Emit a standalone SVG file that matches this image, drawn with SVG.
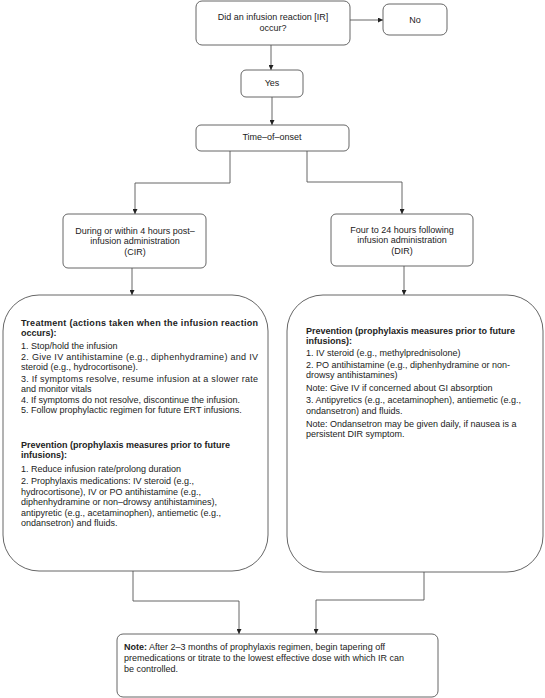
<svg xmlns="http://www.w3.org/2000/svg" width="545" height="698" viewBox="0 0 545 698">
<style>
.box{fill:#fff;stroke:#555;stroke-width:0.9}
.t{font-family:"Liberation Sans",Arial,sans-serif;font-size:9px;fill:#222}
.c{text-anchor:middle}
.b{font-weight:bold}
.conn path{fill:none;stroke:#555;stroke-width:0.9}
</style>
<defs>
<marker id="ah" viewBox="0 0 6 6" refX="6" refY="3" markerWidth="5" markerHeight="5" orient="auto" markerUnits="userSpaceOnUse">
<path d="M0,0 L6,3 L0,6 z" fill="#222"/>
</marker>
</defs>
<rect width="545" height="698" fill="#fff"/>
<g class="conn">
<path d="M350,20 H383" marker-end="url(#ah)"/>
<path d="M271,45 V70" marker-end="url(#ah)"/>
<path d="M272,97 V125" marker-end="url(#ah)"/>
<path d="M230,151 V183 H135 V214" marker-end="url(#ah)"/>
<path d="M307,151 V182 H402 V214" marker-end="url(#ah)"/>
<path d="M132,268 V295" marker-end="url(#ah)"/>
<path d="M404,266 V295" marker-end="url(#ah)"/>
<path d="M133,571 V601 H239 V634" marker-end="url(#ah)"/>
<path d="M424,572 V600 H316 V634" marker-end="url(#ah)"/>
</g>
<g id="q">
<rect class="box" x="196" y="1" width="154" height="44" rx="6"/>
<text class="t c" x="273" y="20">Did an infusion reaction [IR]</text>
<text class="t c" x="273" y="31">occur?</text>
</g>
<g id="no">
<rect class="box" x="383" y="4" width="64" height="31" rx="6"/>
<text class="t c" x="415" y="23">No</text>
</g>
<g id="yes">
<rect class="box" x="241" y="70" width="62" height="27" rx="5"/>
<text class="t c" x="272" y="86">Yes</text>
</g>
<g id="onset">
<rect class="box" x="196" y="125" width="153" height="26" rx="5"/>
<text class="t c" x="272" y="140">Time–of–onset</text>
</g>
<g id="cir">
<rect class="box" x="63" y="214" width="143" height="54" rx="5"/>
<text class="t c" x="135" y="234">During or within 4 hours post–</text>
<text class="t c" x="135" y="244">infusion administration</text>
<text class="t c" x="135" y="255">(CIR)</text>
</g>
<g id="dir">
<rect class="box" x="331" y="214" width="142" height="52" rx="5"/>
<text class="t c" x="402" y="233">Four to 24 hours following</text>
<text class="t c" x="402" y="243">infusion administration</text>
<text class="t c" x="402" y="254">(DIR)</text>
</g>
<g id="cir-actions">
<rect class="box" x="3" y="295" width="265" height="276" rx="36"/>
<text class="t b" x="21" y="326" textLength="237" lengthAdjust="spacing">Treatment (actions taken when the infusion reaction</text>
<text class="t b" x="21" y="336">occurs):</text>
<text class="t" x="21" y="349">1. Stop/hold the infusion</text>
<text class="t" x="21" y="360" textLength="237" lengthAdjust="spacing">2. Give IV antihistamine (e.g., diphenhydramine) and IV</text>
<text class="t" x="21" y="370">steroid (e.g., hydrocortisone).</text>
<text class="t" x="21" y="382" textLength="237" lengthAdjust="spacing">3. If symptoms resolve, resume infusion at a slower rate</text>
<text class="t" x="21" y="392">and monitor vitals</text>
<text class="t" x="21" y="403">4. If symptoms do not resolve, discontinue the infusion.</text>
<text class="t" x="21" y="413">5. Follow prophylactic regimen for future ERT infusions.</text>
<text class="t b" x="21" y="448">Prevention (prophylaxis measures prior to future</text>
<text class="t b" x="21" y="458">infusions):</text>
<text class="t" x="21" y="472">1. Reduce infusion rate/prolong duration</text>
<text class="t" x="21" y="484">2. Prophylaxis medications: IV steroid (e.g.,</text>
<text class="t" x="21" y="495">hydrocortisone), IV or PO antihistamine (e.g.,</text>
<text class="t" x="21" y="505">diphenhydramine or non–drowsy antihistamines),</text>
<text class="t" x="21" y="516">antipyretic (e.g., acetaminophen), antiemetic (e.g.,</text>
<text class="t" x="21" y="526">ondansetron) and fluids.</text>
</g>
<g id="dir-actions">
<rect class="box" x="287" y="295" width="256" height="277" rx="36"/>
<text class="t b" x="306" y="334">Prevention (prophylaxis measures prior to future</text>
<text class="t b" x="306" y="344">infusions):</text>
<text class="t" x="306" y="356">1. IV steroid (e.g., methylprednisolone)</text>
<text class="t" x="306" y="368">2. PO antihistamine (e.g., diphenhydramine or non-</text>
<text class="t" x="306" y="378">drowsy antihistamines)</text>
<text class="t" x="306" y="391">Note: Give IV if concerned about GI absorption</text>
<text class="t" x="306" y="403">3. Antipyretics (e.g., acetaminophen), antiemetic (e.g.,</text>
<text class="t" x="306" y="414">ondansetron) and fluids.</text>
<text class="t" x="306" y="427">Note: Ondansetron may be given daily, if nausea is a</text>
<text class="t" x="306" y="437">persistent DIR symptom.</text>
</g>
<g id="note">
<rect class="box" x="117" y="634" width="321" height="63" rx="6"/>
<text class="t" x="124" y="650"><tspan class="b">Note:</tspan> After 2–3 months of prophylaxis regimen, begin tapering off</text>
<text class="t" x="124" y="661">premedications or titrate to the lowest effective dose with which IR can</text>
<text class="t" x="124" y="672">be controlled.</text>
</g>
</svg>
